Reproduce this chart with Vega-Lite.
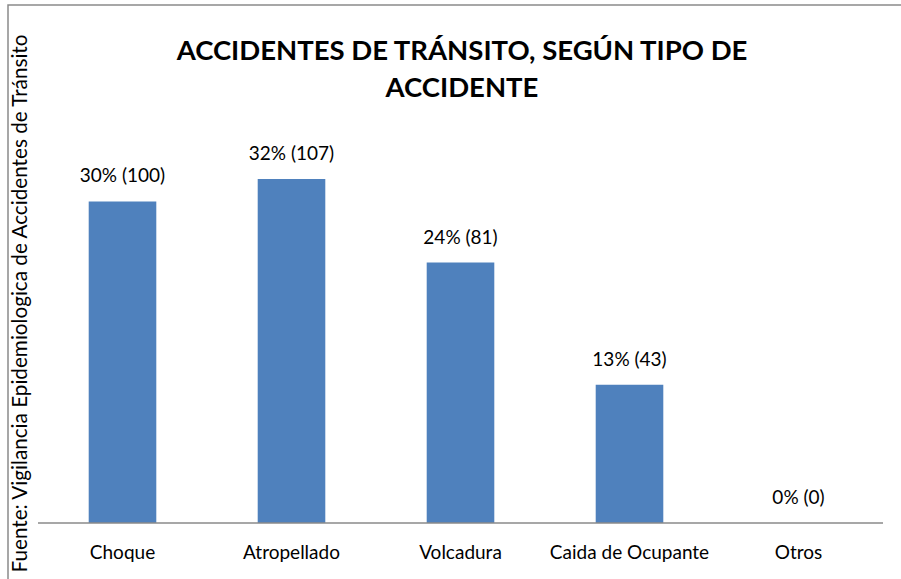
{
  "$schema": "https://vega.github.io/schema/vega-lite/v6.json",
  "autosize": {"type": "none"},
  "padding": {"left": 8, "top": 5, "right": 0, "bottom": 0},
  "width": 900,
  "height": 590,
  "background": "white",
  "config": {
    "font": "Lato",
    "view": {"stroke": "#8a8a8a", "strokeWidth": 1.5}
  },
  "title": {
    "text": ["ACCIDENTES DE TRÁNSITO, SEGÚN TIPO DE", "ACCIDENTE"],
    "anchor": "middle",
    "frame": "group",
    "orient": "top",
    "offset": 0,
    "baseline": "alphabetic",
    "dx": 4,
    "dy": 119,
    "font": "Lato",
    "fontSize": 27.5,
    "fontWeight": "bold",
    "color": "#000000",
    "lineHeight": 37
  },
  "data": {
    "values": [
      {"tipo": "Choque", "casos": 100, "etiqueta": "30% (100)"},
      {"tipo": "Atropellado", "casos": 107, "etiqueta": "32% (107)"},
      {"tipo": "Volcadura", "casos": 81, "etiqueta": "24% (81)"},
      {"tipo": "Caida de Ocupante", "casos": 43, "etiqueta": "13% (43)"},
      {"tipo": "Otros", "casos": 0, "etiqueta": "0% (0)"}
    ]
  },
  "encoding": {
    "x": {
      "field": "tipo",
      "type": "nominal",
      "sort": null,
      "scale": {"paddingInner": 0.6, "paddingOuter": 0.4627, "align": 0.516, "round": false},
      "axis": {
        "title": null,
        "orient": "bottom",
        "offset": -72,
        "domain": false,
        "ticks": false,
        "labelAngle": 0,
        "labelFont": "Lato",
        "labelFontSize": 19,
        "labelColor": "#000000",
        "labelPadding": 20,
        "labelBaseline": "top"
      }
    }
  },
  "layer": [
    {
      "mark": {"type": "bar", "color": "#4F81BD"},
      "encoding": {
        "y": {
          "field": "casos",
          "type": "quantitative",
          "scale": {"domain": [-22.4, 161.1], "zero": false, "nice": false},
          "axis": {
            "title": "Fuente: Vigilancia Epidemiologica de Accidentes de  Tránsito",
            "labels": false,
            "ticks": false,
            "domain": false,
            "grid": false,
            "titleAngle": -90,
            "titleX": 12,
            "titleY": 298,
            "titleAlign": "center",
            "titleBaseline": "middle",
            "titleFont": "Lato",
            "titleFontSize": 20.7,
            "titleFontWeight": "normal",
            "titleColor": "#000000"
          }
        },
        "y2": {"datum": 0}
      }
    },
    {
      "mark": {"type": "text", "baseline": "alphabetic", "dy": -19, "fontSize": 19, "font": "Lato", "color": "#000000"},
      "encoding": {
        "y": {"field": "casos", "type": "quantitative"},
        "text": {"field": "etiqueta"}
      }
    },
    {
      "data": {"values": [{"a": "Choque", "b": "Otros"}]},
      "mark": {"type": "rule", "color": "#8a8a8a", "strokeWidth": 1.5},
      "encoding": {
        "x": {"field": "a", "type": "nominal", "bandPosition": -0.75},
        "x2": {"field": "b", "bandPosition": 1.75},
        "y": {"datum": 0, "type": "quantitative"}
      }
    }
  ]
}
